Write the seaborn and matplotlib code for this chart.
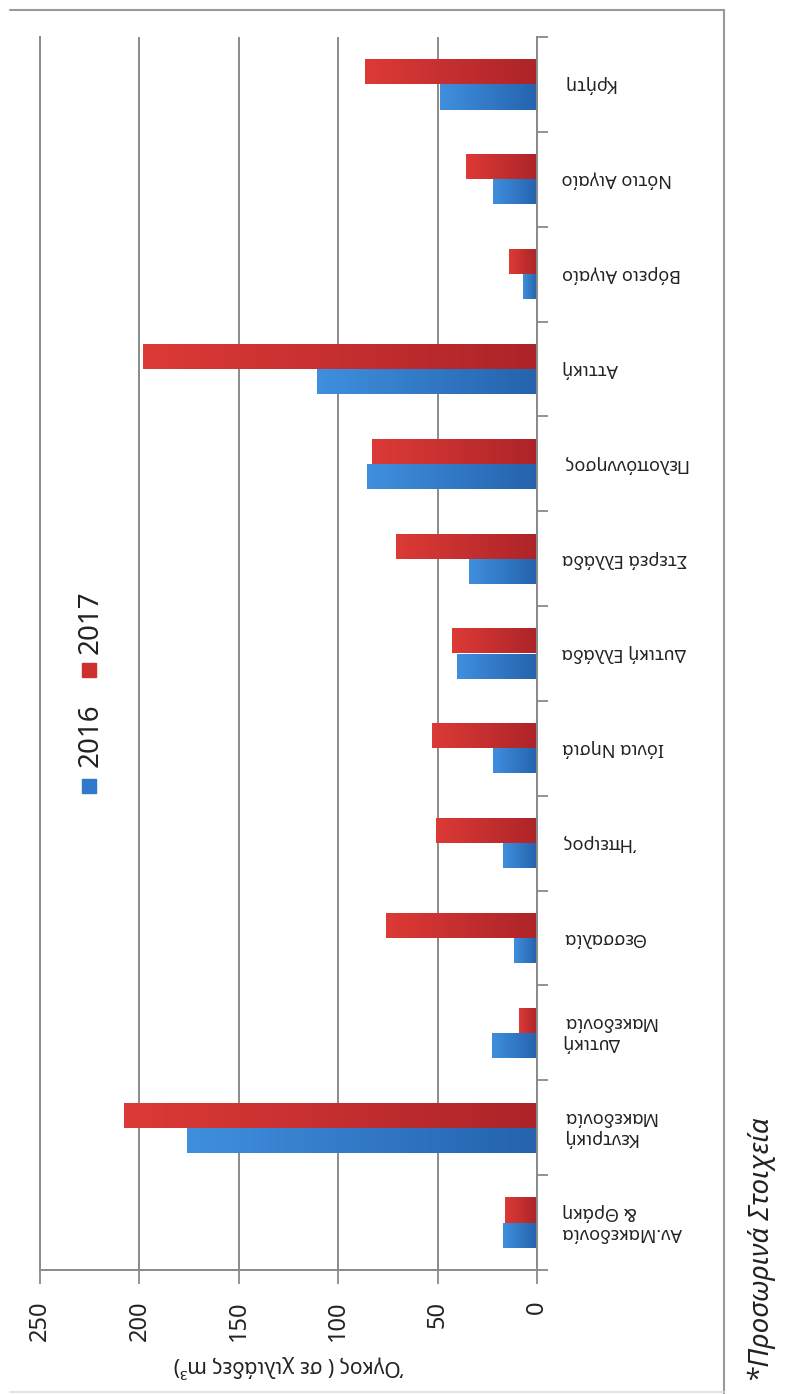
"""
Όγκος ανά Περιφέρεια 2016-2017 (rotated bar chart)
"""

import numpy as np
import pandas as pd
import matplotlib.pyplot as plt
import matplotlib.colors as mcolors
from matplotlib.lines import Line2D
from matplotlib.patches import Rectangle
import seaborn as sns

sns.set_theme(style="white")
plt.rcParams['font.family'] = ['Noto Sans', 'DejaVu Sans']

# ============================================================
# DATA
# ============================================================

CATEGORIES = [
    "Αν.Μακεδονία\n& Θράκη", "Κεντρική\nΜακεδονία", "Δυτική\nΜακεδονία",
    "Θεσσαλία", "Ήπειρος", "Ιόνια Νησιά", "Δυτική Ελλάδα", "Στερεά Ελλάδα",
    "Πελοπόννησος", "Αττική", "Βόρειο Αιγαίο", "Νότιο Αιγαίο", "Κρήτη",
]
VALUES_2016 = [17, 176, 22.5, 11.5, 17, 22, 40, 34, 85.5, 110.5, 7, 22, 49]
VALUES_2017 = [16, 207.5, 9, 76, 51, 53, 43, 71, 83, 198, 14, 35.7, 86.4]
YEARS = ["2016", "2017"]
X_TICKS = [0, 50, 100, 150, 200, 250]

X_LABEL = "Όγκος ( σε χιλιάδες m³)"
FOOTNOTE = "*Προσωρινά Στοιχεία"

# ============================================================
# Style
# ============================================================

BLUE = "#3079cc"
RED = "#cf2f2f"
SHADES = {
    BLUE: ("#3f8fde", "#2563ad"),
    RED: ("#dc3a36", "#ad2428"),
}
GREY = "#8a8a8a"

W, H = 785, 1394

df = pd.DataFrame({
    "region": CATEGORIES * 2,
    "year": [YEARS[0]] * len(CATEGORIES) + [YEARS[1]] * len(CATEGORIES),
    "volume": VALUES_2016 + VALUES_2017,
})


def shade_bar(ax, patch):
    """Replace a flat bar with a horizontal gradient, darker at zero."""
    face = mcolors.to_hex(patch.get_facecolor()[:3])
    key = BLUE if abs(mcolors.to_rgb(face)[2] - mcolors.to_rgb(BLUE)[2]) < 0.1 else RED
    light, dark = [np.array(mcolors.to_rgb(c)) for c in SHADES[key]]
    t = np.linspace(0, 1, 64)[None, :, None]
    img = dark * (1 - t) + light * t
    x0, y0 = patch.get_xy()
    w, h = patch.get_width(), patch.get_height()
    im = ax.imshow(img, extent=(x0, x0 + w, y0 + h, y0), aspect="auto",
                   zorder=patch.get_zorder(), interpolation="bilinear")
    im.set_clip_path(patch)
    patch.set_facecolor("none")
    patch.set_edgecolor("none")


# ============================================================
# Plot
# ============================================================

fig = plt.figure(figsize=(W / 100, H / 100), dpi=100)
ax = fig.add_axes([40 / W, 1 - 1270 / H, (537 - 40) / W, (1270 - 37) / H])

sns.barplot(data=df, y="region", x="volume", hue="year",
            order=CATEGORIES[::-1], hue_order=["2017", "2016"],
            palette={"2016": BLUE, "2017": RED}, width=0.53,
            saturation=1, orient="h", legend=False, ax=ax)

for p in list(ax.patches):
    if p.get_width() > 0:
        shade_bar(ax, p)

ax.set_xlim(250, 0)
ax.set_ylim(len(CATEGORIES) - 0.5, -0.5)
ax.set_axisbelow(True)

# value axis (bottom)
ax.set_xticks(X_TICKS)
ax.set_xticklabels([str(v) for v in X_TICKS])
ax.tick_params(axis="x", bottom=True, length=10, width=1.3, color=GREY,
               labelsize=17, labelrotation=90, pad=12, labelcolor="#222222")
ax.grid(axis="x", color=GREY, linewidth=1.4)
ax.grid(axis="y", visible=False)
ax.set_xlabel(X_LABEL, rotation=180, fontsize=15, labelpad=10, color="#222222")
ax.set_ylabel("")

# category axis (right, at zero)
ax.yaxis.tick_right()
ax.set_yticks(np.arange(-0.5, len(CATEGORIES), 1), minor=True)
ax.tick_params(axis="y", which="major", length=0, pad=18, labelsize=13,
               labelcolor="#222222")
ax.tick_params(axis="y", which="minor", right=True, left=False, length=8,
               width=1.3, color=GREY)
for lbl in ax.get_yticklabels():
    lbl.set_rotation(180)
    lbl.set_ha("left")
    lbl.set_va("center")
    lbl.set_multialignment("right")

for side in ["top"]:
    ax.spines[side].set_visible(False)
for side in ["left", "right", "bottom"]:
    ax.spines[side].set_color(GREY)
    ax.spines[side].set_linewidth(1.4)

# legend (rotated, drawn by hand)
for year, color, yc_sq, yc_txt in [("2016", BLUE, 786, 735), ("2017", RED, 670, 622)]:
    fig.add_artist(Rectangle(((82) / W, 1 - (yc_sq + 7) / H), 14 / W, 14 / H,
                             transform=fig.transFigure, color=color))
    fig.text(91 / W, 1 - yc_txt / H, year, rotation=90, ha="center", va="center",
             fontsize=20, color="#222222")

# footnote
fig.text(762 / W, 1 - 1250 / H, FOOTNOTE, rotation=90, ha="center", va="center",
         fontsize=20, style="italic", color="#222222")

# outer frame
frame = dict(transform=fig.transFigure, color="#999999", linewidth=1.5)
fig.add_artist(Line2D([10 / W, 724 / W], [1 - 10 / H, 1 - 10 / H], **frame))
fig.add_artist(Line2D([724 / W, 724 / W], [1 - 10 / H, 0], **frame))
fig.add_artist(Line2D([10 / W, 724 / W], [1 - 1392 / H, 1 - 1392 / H],
                      transform=fig.transFigure, color="#dddddd", linewidth=1.2))

fig.savefig("out.png", dpi=100, facecolor="white")
